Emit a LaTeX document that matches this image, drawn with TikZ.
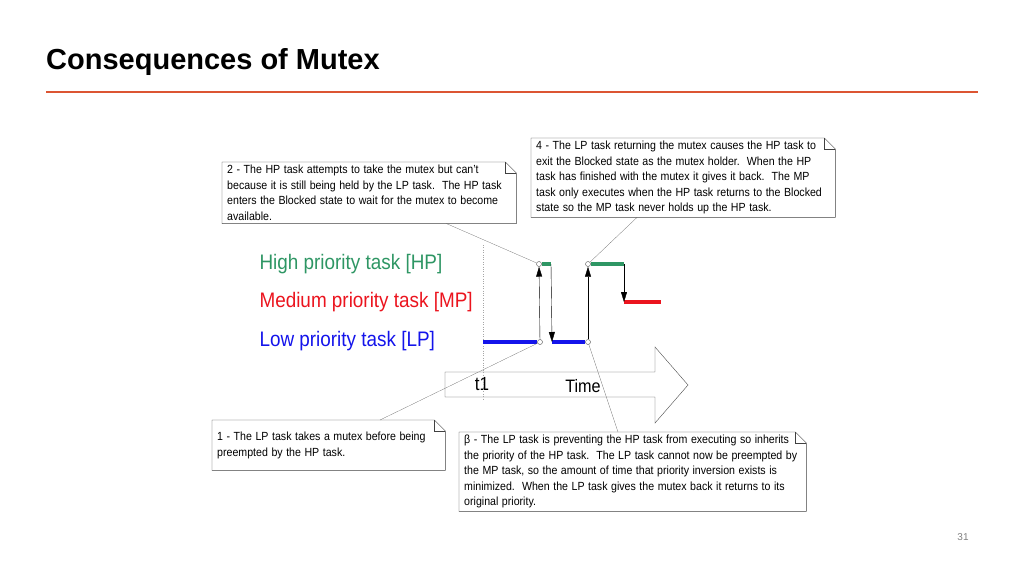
\documentclass[tikz,border=0pt]{standalone}
\usepackage{fontspec}
\setmainfont{Liberation Sans}
\usetikzlibrary{arrows.meta, positioning}
\definecolor{hpgreen}{RGB}{46,150,100}
\definecolor{mpred}{RGB}{235,20,30}
\definecolor{lpblue}{RGB}{20,20,235}
\definecolor{rulered}{RGB}{220,85,50}
\tikzset{
    note/.style={rectangle, draw=none, fill=white, align=left, anchor=north west, inner xsep=5pt, inner ysep=3pt, font=\fontsize{11.8}{15.5}\selectfont},
    task/.style={anchor=west, font=\fontsize{21}{21}\selectfont},
    pointer/.style={draw=gray!70!black, very thin},
    lane/.style={line width=3.5pt},
    jump/.style={thin, -{Triangle[length=10pt, width=6pt]}},
    dot/.style={circle, draw=black!70, fill=white, inner sep=0pt, minimum size=5pt}
}
\newcommand{\narrow}[1]{\scalebox{0.9}[1]{#1}}
\begin{document}
\begin{tikzpicture}[x=1pt, y=-1pt]
    \useasboundingbox (0,0) rectangle (1024,576);
    % Title
    \node (title) [anchor=west, inner sep=0pt, font=\fontsize{29}{29}\selectfont\bfseries] at (46,62) {Consequences of Mutex};
    \draw [rulered, line width=1.2pt] (46,92) -- (978,92);
    \node (page) [font=\fontsize{10}{10}\selectfont, text=gray] at (963,537) {31};
    % Time arrow
    \draw [gray!60!black, fill=white] (445,372) -- (655,372) -- (655,347) -- (688,385) -- (655,423) -- (655,397) -- (445,397) -- cycle;
    \node (t1) [font=\fontsize{19}{19}\selectfont] at (482,384) {\narrow{t1}};
    \node (time) [font=\fontsize{18}{18}\selectfont] at (583,386) {\narrow{Time}};
    \draw [dotted, gray!70] (483,245) -- (483,400);
    % Task labels
    \node (hp) [task, text=hpgreen] at (256,264) {\narrow{High priority task [HP]}};
    \node (mp) [task, text=mpred] at (256,302) {\narrow{Medium priority task [MP]}};
    \node (lp) [task, text=lpblue] at (256,341) {\narrow{Low priority task [LP]}};
    % Timeline points
    \coordinate (lpA) at (483,342);
    \node (lpB) [dot] at (540,342) {};
    \coordinate (lpC) at (552,342);
    \node (lpD) [dot] at (588,342) {};
    \node (hpA) [dot] at (539,264) {};
    \coordinate (hpB) at (551,264);
    \node (hpC) [dot] at (588,264) {};
    \coordinate (hpD) at (624,264);
    \coordinate (mpA) at (624,302);
    \coordinate (mpB) at (661,302);
    \draw [lane, lpblue] (lpA) -- (lpB.west);
    \draw [lane, lpblue] (lpC) -- (lpD.west);
    \draw [lane, hpgreen] (hpA.east) -- (hpB);
    \draw [lane, hpgreen] (hpC.east) -- (hpD);
    \draw [lane, mpred] (mpA) -- (mpB);
    \draw [jump] (lpB) -- (hpA);
    \draw [jump] (hpB) -- (lpC);
    \draw [jump] (lpD) -- (hpC);
    \draw [jump] (hpD) -- (mpA);
    % Callouts
    \node (n2) [note, text width=284pt] at (222,162) {\narrow{2 - The HP task attempts to take the mutex but can't}\\\narrow{because it is still being held by the LP task.\ \ The HP task}\\\narrow{enters the Blocked state to wait for the mutex to become}\\\narrow{available.}};
    \node (n4) [note, text width=294pt] at (531,138) {\narrow{4 - The LP task returning the mutex causes the HP task to}\\\narrow{exit the Blocked state as the mutex holder.\ \ When the HP}\\\narrow{task has finished with the mutex it gives it back.\ \ The MP}\\\narrow{task only executes when the HP task returns to the Blocked}\\\narrow{state so the MP task never holds up the HP task.}};
    \node (n1) [note, text width=223pt, minimum height=50pt] at (212,420) {\narrow{1 - The LP task takes a mutex before being}\\\narrow{preempted by the HP task.}};
    \node (n3) [note, text width=337pt] at (459,432) {\narrow{β - The LP task is preventing the HP task from executing so inherits}\\\narrow{the priority of the HP task.\ \ The LP task cannot now be preempted by}\\\narrow{the MP task, so the amount of time that priority inversion exists is}\\\narrow{minimized.\ \ When the LP task gives the mutex back it returns to its}\\\narrow{original priority.}};
    \foreach \n in {n1, n2, n3, n4} {
        \draw [black!75] (\n.south west) -- (\n.north west) -- ([xshift=-11pt]\n.north east) -- ([yshift=-11pt]\n.north east) -- (\n.south east) -- cycle;
        \draw [black!75] ([xshift=-11pt]\n.north east) -- ([xshift=-11pt, yshift=-11pt]\n.north east) -- ([yshift=-11pt]\n.north east);
    }
    % Pointers
    \draw [pointer] ([xshift=-70pt]n2.south east) -- (hpA);
    \draw [pointer] ([xshift=106pt]n4.south west) -- (hpC);
    \draw [pointer] ([xshift=168pt]n1.north west) -- (lpB);
    \draw [pointer] ([xshift=159pt]n3.north west) -- (lpD);
\end{tikzpicture}
\end{document}
